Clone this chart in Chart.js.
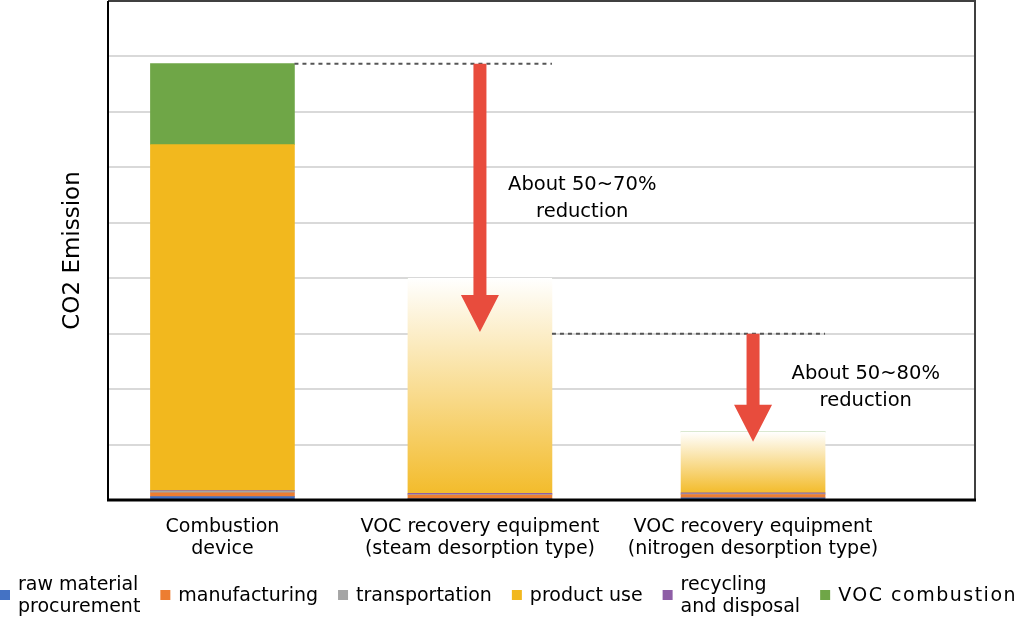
<!DOCTYPE html>
<html>
<head>
<meta charset="utf-8">
<script src="https://cdn.jsdelivr.net/npm/chart.js@4"></script>
<style>
  html, body { margin: 0; padding: 0; background: #fff; }
  #wrap { width: 1015px; height: 618px; }
</style>
</head>
<body>
<div id="wrap"><canvas id="co2Chart"></canvas></div>
<script>
// categories on the x axis
const categories = [
  ['Combustion', 'device'],
  ['VOC recovery equipment', '(steam desorption type)'],
  ['VOC recovery equipment', '(nitrogen desorption type)']
];

// CO2 emission per life-cycle stage (one grid step = 1)
const rawMaterial    = [0.06, 0.02, 0.04];
const manufacturing  = [0.07, 0.07, 0.06];
const transportation = [0.03, 0.01, 0.01];
const productUse     = [6.24, 3.88, 1.10];
const recycling      = [0.01, 0.02, 0.02];
const vocCombustion  = [1.46, 0, 0];

// legend names
const seriesNames = [
  ['raw material', 'procurement'],
  'manufacturing',
  'transportation',
  'product use',
  ['recycling', 'and disposal'],
  'VOC combustion'
];

// y axis
const yTicks = [0, 1, 2, 3, 4, 5, 6, 7, 8, 9];
const yTitle = 'CO2 Emission';

// reduction arrows: start level -> arrow tip level
const reductionFrom = [7.87, 3.0];
const reductionTo   = [3.03, 1.05];
const reductionText = [['About 50~70%', 'reduction'], ['About 50~80%', 'reduction']];

const FONT = "'DejaVu Sans', Verdana, sans-serif";
const colors = ['#4472C4', '#ED7D31', '#A5A5A5', '#F2B81E', '#8E5EA6', '#6FA647'];
const seriesData = [rawMaterial, manufacturing, transportation, productUse, recycling, vocCombustion];

// where the bars sit on the (hidden) linear x axis, 0..10
const slotPos = [1.32, 4.29, 7.44];
// stacking order bottom -> top (recycling sits under product use)
const stackOrder = [0, 1, 2, 4, 3, 5];

// product use fades to white on the two recovery bars
function productFill(c) {
  const chart = c.chart;
  const i = c.dataIndex;
  if (!chart.chartArea || i === undefined || i === 0) return colors[3];
  const y = chart.scales.y;
  const base = rawMaterial[i] + manufacturing[i] + transportation[i] + recycling[i];
  const g = chart.ctx.createLinearGradient(0, y.getPixelForValue(base), 0, y.getPixelForValue(base + productUse[i]));
  g.addColorStop(0, '#F3BC2C');
  g.addColorStop(1, '#FFFFFF');
  return g;
}

const datasets = stackOrder.map(k => ({
  label: Array.isArray(seriesNames[k]) ? seriesNames[k].join(' ') : seriesNames[k],
  data: seriesData[k],
  backgroundColor: k === 3 ? productFill : colors[k],
  borderWidth: 0,
  barThickness: 144
}));

// dashed level lines, red arrows and their notes
const reductionPlugin = {
  id: 'reduction',
  afterDatasetsDraw(chart) {
    const { ctx, scales: { x, y } } = chart;
    const bars = chart.getDatasetMeta(0).data;
    const noteX = [5.47, 8.74];
    const noteY = [5.43, 2.03];
    ctx.save();
    for (let i = 0; i < reductionFrom.length; i++) {
      const a = bars[i], b = bars[i + 1];
      const yFrom = y.getPixelForValue(reductionFrom[i]);
      const yTo = y.getPixelForValue(reductionTo[i]);
      // dashed line
      ctx.setLineDash([4, 4]);
      ctx.strokeStyle = '#555';
      ctx.lineWidth = 2;
      ctx.beginPath();
      ctx.moveTo(a.x + a.width / 2, yFrom);
      ctx.lineTo(b.x + b.width / 2, yFrom);
      ctx.stroke();
      ctx.setLineDash([]);
      // arrow
      const cx = b.x, sw = 6.5, hw = 19, hl = 37;
      ctx.fillStyle = '#E84C3D';
      ctx.beginPath();
      ctx.moveTo(cx - sw, yFrom);
      ctx.lineTo(cx + sw, yFrom);
      ctx.lineTo(cx + sw, yTo - hl);
      ctx.lineTo(cx + hw, yTo - hl);
      ctx.lineTo(cx, yTo);
      ctx.lineTo(cx - hw, yTo - hl);
      ctx.lineTo(cx - sw, yTo - hl);
      ctx.closePath();
      ctx.fill();
      // note
      ctx.fillStyle = '#000';
      ctx.font = `19.5px ${FONT}`;
      ctx.textAlign = 'center';
      ctx.textBaseline = 'middle';
      const tx = x.getPixelForValue(noteX[i]);
      const ty = y.getPixelForValue(noteY[i]);
      ctx.fillText(reductionText[i][0], tx, ty - 13.5);
      ctx.fillText(reductionText[i][1], tx, ty + 13.5);
    }
    ctx.restore();
  }
};

// plot frame
const framePlugin = {
  id: 'frame',
  afterDatasetsDraw(chart) {
    const { ctx, chartArea: a } = chart;
    ctx.save();
    ctx.strokeStyle = '#404040';
    ctx.lineWidth = 2;
    ctx.beginPath();
    ctx.moveTo(a.left, a.top);
    ctx.lineTo(a.right, a.top);
    ctx.lineTo(a.right, a.bottom);
    ctx.stroke();
    ctx.strokeStyle = '#000';
    ctx.lineWidth = 2;
    ctx.beginPath();
    ctx.moveTo(a.left, a.top);
    ctx.lineTo(a.left, a.bottom);
    ctx.stroke();
    ctx.lineWidth = 3;
    ctx.beginPath();
    ctx.moveTo(a.left - 1, a.bottom);
    ctx.lineTo(a.right + 1, a.bottom);
    ctx.stroke();
    ctx.restore();
  }
};

// legend along the bottom, multi-line names allowed
const legendPlugin = {
  id: 'bottomLegend',
  afterDraw(chart) {
    const { ctx } = chart;
    const cy = 595, lh = 22, gap = 20;
    ctx.save();
    ctx.font = `19px ${FONT}`;
    ctx.textAlign = 'left';
    ctx.textBaseline = 'middle';
    ctx.fillStyle = '#000';
    let x = 0;
    seriesNames.forEach((name, k) => {
      const lines = Array.isArray(name) ? name : [name];
      ctx.fillStyle = colors[k];
      ctx.fillRect(x, cy - 5, 10, 10);
      x += 18;
      ctx.fillStyle = '#000';
      ctx.letterSpacing = k === 5 ? '1.5px' : '0px';
      let w = 0;
      lines.forEach((t, j) => {
        const ly = cy + 1 + (j - (lines.length - 1) / 2) * lh;
        ctx.fillText(t, x, ly);
        w = Math.max(w, ctx.measureText(t).width);
      });
      x += w + gap;
    });
    ctx.restore();
  }
};

new Chart(document.getElementById('co2Chart'), {
  type: 'bar',
  data: { labels: slotPos, datasets: datasets },
  options: {
    responsive: true,
    maintainAspectRatio: false,
    animation: false,
    layout: { padding: { left: 59, right: 40, top: 1, bottom: 48 } },
    plugins: { legend: { display: false }, tooltip: { enabled: false } },
    scales: {
      x: {
        type: 'linear',
        min: 0,
        max: 10,
        offset: false,
        stacked: true,
        grid: { display: false },
        border: { display: false },
        afterBuildTicks: s => { s.ticks = slotPos.map(v => ({ value: v })); },
        afterFit: s => { s.height = 70; },
        ticks: {
          autoSkip: false,
          maxRotation: 0,
          padding: 8,
          color: '#000',
          font: { family: FONT, size: 19, lineHeight: 22 / 19 },
          callback: (v, i) => categories[i]
        }
      },
      y: {
        min: yTicks[0],
        max: yTicks[yTicks.length - 1],
        stacked: true,
        afterBuildTicks: s => { s.ticks = yTicks.map(v => ({ value: v })); },
        afterFit: s => { s.width = 49; },
        ticks: { display: false },
        grid: { color: '#d9d9d9', lineWidth: 2, drawTicks: false },
        border: { display: false },
        title: {
          display: true,
          text: yTitle,
          color: '#000',
          padding: 0,
          font: { family: FONT, size: 23, lineHeight: 1.2 }
        }
      }
    }
  },
  plugins: [reductionPlugin, framePlugin, legendPlugin]
});
</script>
</body>
</html>
